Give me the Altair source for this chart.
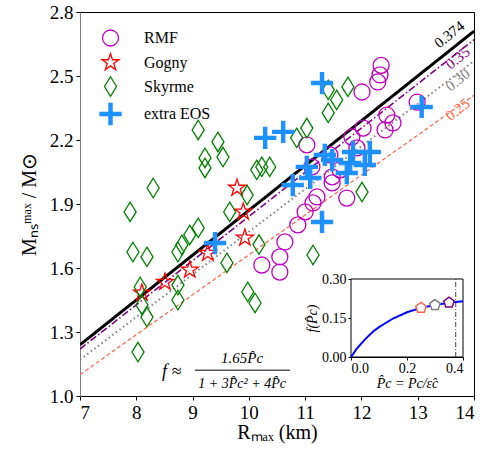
import altair as alt
import pandas as pd

# ---------------- data ----------------
types = ["RMF", "Gogny", "Skyrme", "extra EOS"]

rmf_R = [12.35, 12.33, 12.29, 12.01, 12.99, 12.45, 12.56, 12.42, 12.03, 11.83, 11.92, 11.03, 11.44,
         11.62, 11.12, 11.48, 11.48, 11.74, 11.21, 11.14, 11.00, 10.87, 10.64, 10.55, 10.23, 10.55]
rmf_M = [2.550, 2.505, 2.472, 2.425, 2.378, 2.317, 2.280, 2.247, 2.256, 2.214, 2.163, 2.177, 2.130,
         2.060, 2.074, 2.027, 1.999, 1.928, 1.933, 1.905, 1.863, 1.802, 1.722, 1.652, 1.614, 1.581]

gogny_R = [9.79, 9.90, 9.93, 9.27, 8.95, 8.51, 8.10]
gogny_M = [1.975, 1.863, 1.741, 1.670, 1.591, 1.534, 1.483]

skyrme_R = [9.10, 9.45, 9.54, 9.22, 9.22, 8.30, 7.89, 9.97, 9.66, 10.14, 10.23, 10.37, 7.94, 8.19,
            9.10, 8.95, 8.81, 8.74, 9.61, 8.07, 8.10, 8.19, 8.74, 8.74, 9.98, 10.11, 8.03, 10.18,
            11.76, 11.56, 11.41, 11.41, 11.03, 10.85, 12.01, 11.14]
skyrme_M = [2.247, 2.191, 2.120, 2.116, 2.069, 1.975, 1.863, 1.942, 1.863, 2.060, 2.074, 2.074, 1.675,
            1.652, 1.788, 1.755, 1.708, 1.675, 1.624, 1.511, 1.427, 1.370, 1.520, 1.450, 1.488, 1.436,
            1.206, 1.710, 2.449, 2.388, 2.435, 2.327, 2.256, 2.210, 1.956, 1.661]

extra_R = [11.30, 10.29, 10.61, 11.35, 11.48, 11.03, 11.09, 10.78, 11.85, 12.15, 12.06, 11.74, 11.80,
           11.30, 9.40, 13.07]
extra_M = [2.467, 2.210, 2.238, 2.130, 2.106, 2.074, 2.022, 1.989, 2.144, 2.144, 2.083, 2.045, 2.092,
           1.816, 1.717, 2.355]

# fitted lines (label, M at R=7, M at R=14)
line_labels = ["0.374", "0.35", "0.30", "0.25"]
line_R_ends = [7, 14]
line_M_start = [1.24, 1.22, 1.17, 1.10]
line_M_end = [2.71, 2.67, 2.57, 2.41]

# inset curve f(P)
inset_P = [0.0, 0.02, 0.05, 0.08, 0.10, 0.15, 0.20, 0.25, 0.30, 0.35, 0.374, 0.40]
inset_f = [0.0, 0.031, 0.068, 0.099, 0.115, 0.148, 0.172, 0.189, 0.200, 0.209, 0.212, 0.214]
pent_P = [0.25, 0.30, 0.35]
pent_f = [0.189, 0.200, 0.209]
p_max = 0.374

# ---------------- styling / placement ----------------
SERIF = "Liberation Serif"
STAR = "M0,-1L0.225,-0.309L0.951,-0.309L0.363,0.118L0.588,0.809L0,0.382L-0.588,0.809L-0.363,0.118L-0.951,-0.309L-0.225,-0.309Z"
DIAMOND = "M0,-1L0.62,0L0,1L-0.62,0Z"
PLUS = ("M-1,-0.15L-0.15,-0.15L-0.15,-1L0.15,-1L0.15,-0.15L1,-0.15L1,0.15L0.15,0.15"
        "L0.15,1L-0.15,1L-0.15,0.15L-1,0.15Z")
PENT = "M0,-1L0.951,-0.309L0.588,0.809L-0.588,0.809L-0.951,-0.309Z"

type_shapes = ["circle", STAR, DIAMOND, PLUS]
type_colors = ["#c000c0", "#ff0000", "#008000", "#1e90ff"]
type_fills = ["transparent", "transparent", "transparent", "#1e90ff"]
type_sizes = [256, 440, 420, 310]

line_colors = ["black", "#800080", "#808080", "#ff6347"]
line_dash = [[1, 0], [7, 2.5, 1.5, 2.5], [1.5, 3], [4, 2.5]]
line_width = [3, 1.6, 2, 1.2]
label_R = [13.56, 13.71, 13.71, 13.71]
label_M = [2.695, 2.585, 2.482, 2.343]
pent_colors = ["#ff6347", "#808080", "#800080"]

W, H = 394, 384

# ---------------- tables ----------------
rows = []
for t, Rs, Ms in zip(types, [rmf_R, gogny_R, skyrme_R, extra_R], [rmf_M, gogny_M, skyrme_M, extra_M]):
    for r, m in zip(Rs, Ms):
        rows.append({"R": r, "M": m, "type": t})
pts = pd.DataFrame(rows)

line_rows = []
for lab, m0, m1 in zip(line_labels, line_M_start, line_M_end):
    line_rows.append({"label": lab, "R": line_R_ends[0], "M": m0})
    line_rows.append({"label": lab, "R": line_R_ends[1], "M": m1})
lines_df = pd.DataFrame(line_rows)
lab_df = pd.DataFrame({"label": line_labels, "R": label_R, "M": label_M})

xs = alt.Scale(domain=[7, 14], nice=False, zero=False)
ys = alt.Scale(domain=[1.0, 2.8], nice=False, zero=False)
x_axis = alt.Axis(values=list(range(7, 15)), format="d", title="Rₘₐₓ (km)", grid=False,
                  labelFontSize=19, titleFontSize=20, tickSize=4, labelPadding=3, titlePadding=0,
                  domainColor="black", tickColor="black", labelColor="black", titleColor="black",
                  titleFontWeight="normal", labelFont=SERIF, titleFont=SERIF)
y_axis = alt.Axis(values=[1.0, 1.3, 1.6, 1.9, 2.2, 2.5, 2.8], format=".1f", title="Mₙₛᵐᵃˣ / M⊙",
                  grid=False, labelFontSize=19, titleFontSize=20, tickSize=4, labelPadding=3,
                  titlePadding=10, domainColor="#808080", tickColor="black", labelColor="black",
                  titleColor="black", titleFontWeight="normal", labelFont=SERIF, titleFont=SERIF)
X = alt.X("R:Q", scale=xs, axis=x_axis)
Y = alt.Y("M:Q", scale=ys, axis=y_axis)

main_layers = []
for lab, c, d, w in zip(line_labels, line_colors, line_dash, line_width):
    main_layers.append(
        alt.Chart(lines_df).transform_filter(alt.datum.label == lab)
        .mark_line(color=c, strokeDash=d, strokeWidth=w, clip=True)
        .encode(x=X, y=Y)
    )

leg = alt.Legend(title=None, orient="none", legendX=19, legendY=17, labelFont=SERIF,
                 labelFontSize=16, labelOffset=22, rowPadding=1.5, padding=0, labelColor="black",
                 symbolStrokeWidth=1.3)
main_layers.append(
    alt.Chart(pts).mark_point(filled=True, opacity=1, strokeWidth=1.3).encode(
        x=X, y=Y,
        shape=alt.Shape("type:N", scale=alt.Scale(domain=types, range=type_shapes), legend=leg),
        stroke=alt.Stroke("type:N", scale=alt.Scale(domain=types, range=type_colors), legend=leg),
        fill=alt.Fill("type:N", scale=alt.Scale(domain=types, range=type_fills), legend=leg),
        size=alt.Size("type:N", scale=alt.Scale(domain=types, range=type_sizes), legend=leg),
    )
)

for lab, c in zip(line_labels, line_colors):
    main_layers.append(
        alt.Chart(lab_df).transform_filter(alt.datum.label == lab)
        .mark_text(font=SERIF, fontSize=15, angle=321.5, color=c, align="center", baseline="middle")
        .encode(x=X, y=Y, text="label:N")
    )

# formula annotation
formula_df = pd.DataFrame({
    "R": [8.63, 9.88, 9.88],
    "M": [1.113, 1.176, 1.056],
    "txt": ["f ≈", "1.65P̂c", "1 + 3P̂c² + 4P̂c"],
})
formula_sizes = [18, 15, 14]
for i, s in enumerate(formula_sizes):
    main_layers.append(
        alt.Chart(formula_df.iloc[[i]]).mark_text(font=SERIF, fontStyle="italic", color="black",
                                                  align="center", baseline="middle", fontSize=s)
        .encode(x=X, y=Y, text="txt:N")
    )
frac_df = pd.DataFrame({"R": [9.04], "R2": [10.73], "M": [1.121]})
main_layers.append(
    alt.Chart(frac_df).mark_rule(color="black", strokeWidth=1)
    .encode(x=X, x2="R2:Q", y=Y)
)

main = alt.layer(*main_layers)

# ---------------- inset ----------------
ixs = alt.Scale(domain=[0, 0.4], range=[271, 383], nice=False, zero=False)
iys = alt.Scale(domain=[0, 0.3], range=[345, 267], nice=False, zero=False)
ix_axis = alt.Axis(orient="bottom", offset=-39, values=[0, 0.2, 0.4], format=".1f", grid=False,
                   title="P̂c = Pc/ε̂c", labelFontSize=14, titleFontSize=14, tickSize=3,
                   labelPadding=1, titlePadding=1, labelFont=SERIF, titleFont=SERIF,
                   titleFontWeight="normal", domainColor="black", tickColor="black",
                   labelColor="black", titleColor="black", titleFontStyle="italic")
iy_axis = alt.Axis(orient="left", offset=-271, values=[0, 0.15, 0.30], format=".2f", grid=False,
                   title="f(P̂c)", labelFontSize=14, titleFontSize=14, tickSize=3,
                   labelPadding=2, titlePadding=2, labelFont=SERIF, titleFont=SERIF,
                   titleFontWeight="normal", domainColor="black", tickColor="black",
                   labelColor="black", titleColor="black", titleFontStyle="italic")
IX = alt.X("P:Q", scale=ixs, axis=ix_axis)
IY = alt.Y("f:Q", scale=iys, axis=iy_axis)

curve_df = pd.DataFrame({"P": inset_P, "f": inset_f})
frame_df = pd.DataFrame({"P": [0.0], "P2": [0.4], "f": [0.0], "f2": [0.3]})
vline_df = pd.DataFrame({"P": [p_max], "f": [0.0], "f2": [0.3]})
pent_df = pd.DataFrame({"P": pent_P, "f": pent_f, "k": [0, 1, 2]})

inset_layers = [
    alt.Chart(frame_df).mark_rect(fill="white", stroke="black", strokeWidth=1)
    .encode(x=IX, x2="P2:Q", y=IY, y2="f2:Q"),
    alt.Chart(vline_df).mark_rule(color="#444444", strokeWidth=1, strokeDash=[5, 2, 1, 2])
    .encode(x=IX, y=IY, y2="f2:Q"),
    alt.Chart(curve_df).mark_line(color="#0000ff", strokeWidth=2).encode(x=IX, y=IY),
]
for k, c in enumerate(pent_colors):
    inset_layers.append(
        alt.Chart(pent_df).transform_filter(alt.datum.k == k)
        .mark_point(shape=PENT, filled=True, fill="white", stroke=c, strokeWidth=1.5, size=120, opacity=1)
        .encode(x=IX, y=IY)
    )
inset = alt.layer(*inset_layers)

chart = (
    alt.layer(main, inset)
    .resolve_scale(x="independent", y="independent")
    .resolve_axis(x="independent", y="independent")
    .properties(width=W, height=H, autosize="none",
                padding={"left": 80, "top": 12, "right": 11, "bottom": 63},
                background="white")
    .configure_view(stroke="black", strokeWidth=1)
)

chart.save("out.html", embed_options={"renderer": "svg", "actions": False})
